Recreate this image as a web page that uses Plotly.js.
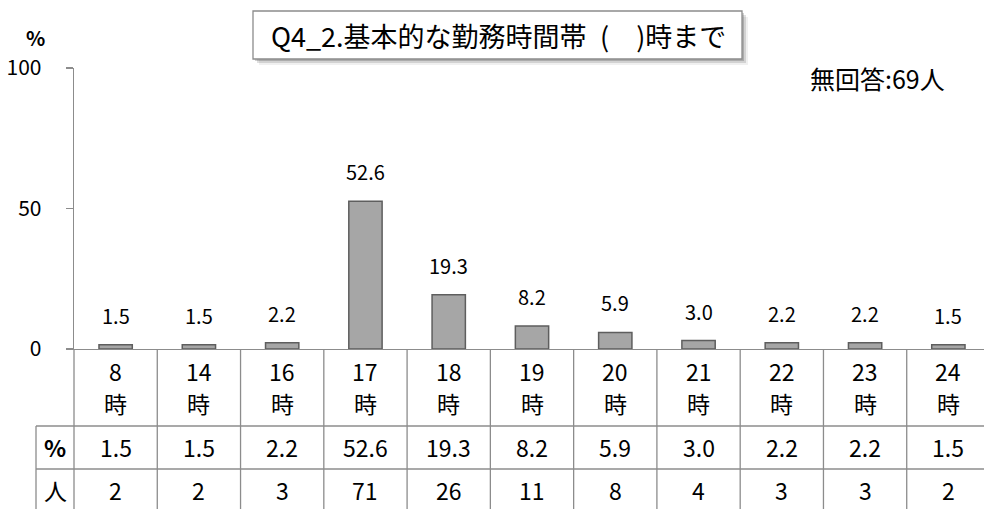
<!DOCTYPE html>
<html>
<head>
<meta charset="utf-8">
<script src="https://cdn.plot.ly/plotly-3.0.1.min.js"></script>
<style>
html,body{margin:0;padding:0;overflow:hidden;background:#fff;}
#chart{width:1000px;height:509px;}
</style>
</head>
<body>
<div id="chart"></div>
<script>
// ---- data ----
const categories = ['8','14','16','17','18','19','20','21','22','23','24'];
const hourSuffix = '時';
const percents = [1.5, 1.5, 2.2, 52.6, 19.3, 8.2, 5.9, 3.0, 2.2, 2.2, 1.5];
const counts = [2, 2, 3, 71, 26, 11, 8, 4, 3, 3, 2];
const rowLabels = ['%', '人'];
const titleText = 'Q4_2.基本的な勤務時間帯\u2002(\u3000)時まで';
const noAnswerText = '無回答:69人';
const yTicks = [0, 50, 100];

// ---- layout geometry (pixels) ----
const W = 1000, H = 509;
const ML = 74, MR = 10, MT = 68, MB = 160;
const PW = W - ML - MR, PH = H - MT - MB;
const px = p => (p - ML) / PW;          // pixel x -> paper x
const py = p => (H - MB - p) / PH;      // pixel y -> paper y

const FONT = '"Noto Sans CJK JP", "Noto Sans", sans-serif';
const LINE = '#8c8c8c';
const n = categories.length;
const idx = categories.map((_, i) => i);

const trace = {
  type: 'bar',
  x: idx,
  y: percents,
  marker: {color: '#a6a6a6', line: {color: '#5e5e5e', width: 1.5}},
  width: 0.4,
  hoverinfo: 'skip'
};

const shapes = [];
const annotations = [];

// table vertical lines
for (let k = 0; k <= n; k++) {
  shapes.push({type: 'line', xref: 'paper', yref: 'paper',
    x0: k / n, x1: k / n, y0: py(349), y1: py(515),
    line: {color: LINE, width: 1.3}});
}
// table horizontal lines
[426, 469].forEach(p => shapes.push({type: 'line', xref: 'paper', yref: 'paper',
  x0: px(36), x1: 1, y0: py(p), y1: py(p), line: {color: LINE, width: 1.3}}));
// left border of row labels
shapes.push({type: 'line', xref: 'paper', yref: 'paper',
  x0: px(36), x1: px(36), y0: py(426), y1: py(515), line: {color: LINE, width: 1.3}});

// title box shadow + box
[[6, 'rgba(0,0,0,0.06)'], [4, 'rgba(0,0,0,0.12)'], [2, 'rgba(0,0,0,0.18)']].forEach(([o, c]) => {
  shapes.push({type: 'rect', xref: 'paper', yref: 'paper',
    x0: px(253 + o), x1: px(742 + o), y0: py(59 + o), y1: py(11 + o),
    fillcolor: c, line: {width: 0}});
});
shapes.push({type: 'rect', xref: 'paper', yref: 'paper',
  x0: px(253), x1: px(742), y0: py(59), y1: py(11),
  fillcolor: '#ffffff', line: {color: '#8c8c8c', width: 1.3}});

annotations.push({xref: 'paper', yref: 'paper', x: px(498), y: py(35),
  text: titleText, showarrow: false, xanchor: 'center', yanchor: 'middle',
  font: {family: FONT, size: 27, color: '#000'}});

annotations.push({xref: 'paper', yref: 'paper', x: px(877), y: py(78),
  text: noAnswerText, showarrow: false, xanchor: 'center', yanchor: 'middle',
  font: {family: FONT, size: 25, color: '#000'}});

annotations.push({xref: 'paper', yref: 'paper', x: px(35), y: py(37),
  text: '<b>%</b>', showarrow: false, xanchor: 'center', yanchor: 'middle',
  font: {family: FONT, size: 20, color: '#000'}});

// data labels + table cells
idx.forEach(i => {
  annotations.push({xref: 'x', yref: 'y', x: i, y: percents[i],
    text: percents[i].toFixed(1), showarrow: false, xanchor: 'center', yanchor: 'bottom',
    yshift: 13, font: {family: FONT, size: 20, color: '#000'}});
  annotations.push({xref: 'x', yref: 'paper', x: i, y: py(371),
    text: categories[i], showarrow: false, xanchor: 'center', yanchor: 'middle',
    font: {family: FONT, size: 23, color: '#000'}});
  annotations.push({xref: 'x', yref: 'paper', x: i, y: py(403),
    text: hourSuffix, showarrow: false, xanchor: 'center', yanchor: 'middle',
    font: {family: FONT, size: 23, color: '#000'}});
  annotations.push({xref: 'x', yref: 'paper', x: i, y: py(447),
    text: percents[i].toFixed(1), showarrow: false, xanchor: 'center', yanchor: 'middle',
    font: {family: FONT, size: 23, color: '#000'}});
  annotations.push({xref: 'x', yref: 'paper', x: i, y: py(490),
    text: String(counts[i]), showarrow: false, xanchor: 'center', yanchor: 'middle',
    font: {family: FONT, size: 23, color: '#000'}});
});
rowLabels.forEach((t, r) => {
  annotations.push({xref: 'paper', yref: 'paper', x: px(55), y: py(r === 0 ? 447 : 490),
    text: r === 0 ? '<b>' + t + '</b>' : t, showarrow: false, xanchor: 'center', yanchor: 'middle',
    font: {family: FONT, size: 23, color: '#000'}});
});

const layout = {
  width: W, height: H,
  margin: {l: ML, r: MR, t: MT, b: MB, pad: 0},
  paper_bgcolor: '#fff', plot_bgcolor: '#fff',
  showlegend: false,
  xaxis: {range: [-0.5, n - 0.5], showticklabels: false, ticks: '', showgrid: false,
    zeroline: false, showline: true, linecolor: LINE, linewidth: 1.3, fixedrange: true},
  yaxis: {range: [0, 100], tickvals: yTicks, ticks: 'outside', ticklen: 7, tickcolor: LINE,
    tickwidth: 1.3, showline: true, linecolor: LINE, linewidth: 1.3, showgrid: false,
    ticklabelstandoff: 20,
    zeroline: false, tickfont: {family: FONT, size: 21, color: '#000'}, fixedrange: true},
  shapes: shapes,
  annotations: annotations
};

Plotly.newPlot('chart', [trace], layout, {displayModeBar: false, staticPlot: true});
</script>
</body>
</html>
